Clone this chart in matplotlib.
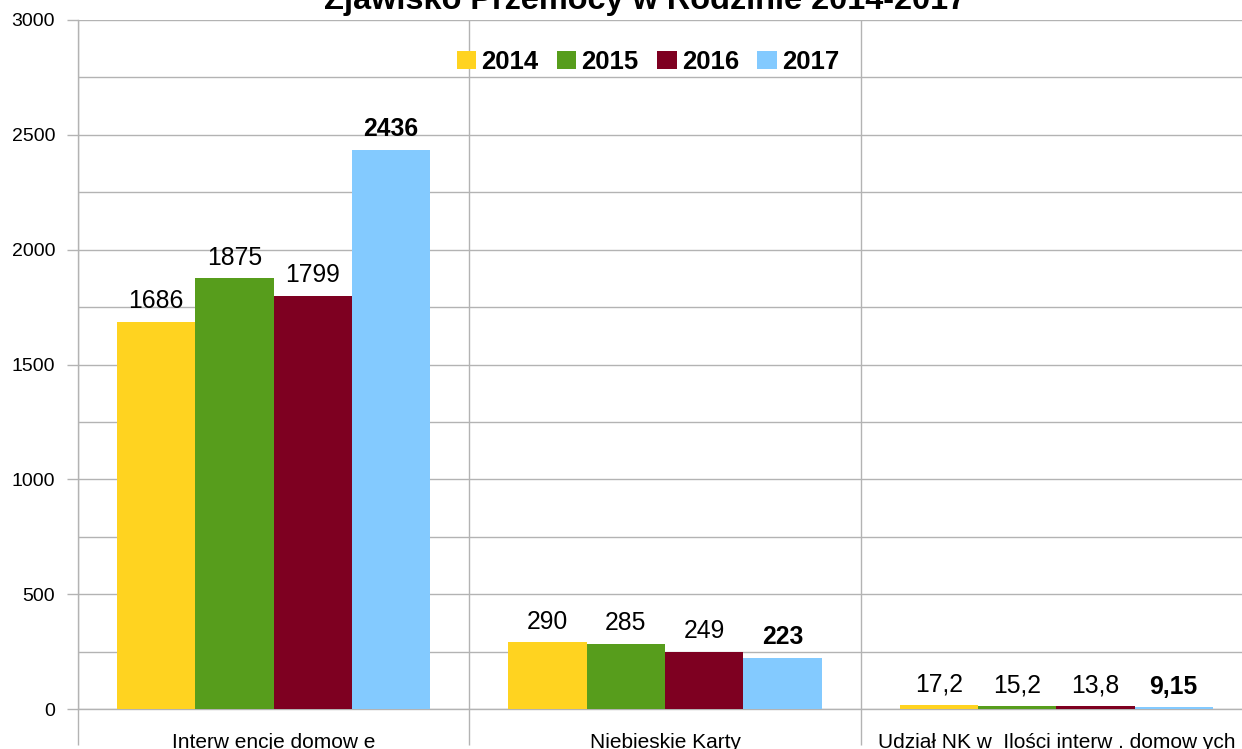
import matplotlib
matplotlib.use("Agg")
import matplotlib.pyplot as plt
import numpy as np
from matplotlib.ticker import MultipleLocator, FixedLocator

plt.rcParams['font.family'] = ['Liberation Sans', 'DejaVu Sans']

categories = ["Interw encje domow e", "Niebieskie Karty", "Udział NK w  Ilości interw . domow ych"]
years = ["2014", "2015", "2016", "2017"]
values_2014 = [1686, 290, 17.2]
values_2015 = [1875, 285, 15.2]
values_2016 = [1799, 249, 13.8]
values_2017 = [2436, 223, 9.15]
colors = ["#FFD320", "#579D1C", "#7E0021", "#83CAFF"]

series = [values_2014, values_2015, values_2016, values_2017]

W, H = 1242, 749
fig = plt.figure(figsize=(W / 100, H / 100), dpi=100)
left, right, top, bottom = 78, 1252, 20, 709
ax = fig.add_axes([left / W, 1 - bottom / H, (right - left) / W, (bottom - top) / H])

grid_c = "#b3b3b3"
x = np.arange(len(categories))
bw = 0.2
offsets = [-0.3, -0.1, 0.1, 0.3]


def fmt(v):
    s = f"{v:g}"
    return s.replace(".", ",")


for vals, yr, col, off in zip(series, years, colors, offsets):
    bars = ax.bar(x + off, vals, width=bw, color=col, label=yr, zorder=3)
    bold = yr == "2017"
    for b, v in zip(bars, vals):
        ax.annotate(fmt(v), (b.get_x() + b.get_width() / 2, v),
                    xytext=(0, 6), textcoords="offset points",
                    ha="center", va="bottom", fontsize=17.8,
                    fontweight="bold" if bold else "normal", color="black")

ax.set_xlim(-0.5, 2.5)
ax.set_ylim(0, 3000)
ax.yaxis.set_major_locator(MultipleLocator(500))
ax.yaxis.set_minor_locator(MultipleLocator(250))
ax.grid(axis="y", which="both", color=grid_c, linewidth=1, zorder=0)
ax.xaxis.set_major_locator(FixedLocator(x))
ax.set_xticks([-0.5, 0.5, 1.5], minor=True)
ax.grid(axis="x", which="minor", color=grid_c, linewidth=1, zorder=0)
ax.set_xticklabels(categories, fontsize=15)
ax.tick_params(axis="x", which="major", length=0, pad=17)
ax.tick_params(axis="x", which="minor", length=26, color=grid_c, width=1)
ax.tick_params(axis="y", which="major", length=8, color=grid_c, width=1,
               labelsize=14, pad=8.5)
ax.tick_params(axis="y", which="minor", length=0)

for s in ["top", "right"]:
    ax.spines[s].set_visible(False)
for s in ["left", "bottom"]:
    ax.spines[s].set_color(grid_c)
    ax.spines[s].set_linewidth(1)

leg = ax.legend(loc="upper center", bbox_to_anchor=(570 / (right - left), 0.99),
                ncol=4, frameon=False, prop={"weight": "bold", "size": 18.5},
                handlelength=0.75, handleheight=0.75, handletextpad=0.2,
                columnspacing=0.72)

fig.text(645 / W, 1 - 9 / H, "Zjawisko Przemocy w Rodzinie 2014-2017",
         ha="center", va="baseline", fontsize=23.4, fontweight="bold")

fig.savefig("out.png", dpi=100)
